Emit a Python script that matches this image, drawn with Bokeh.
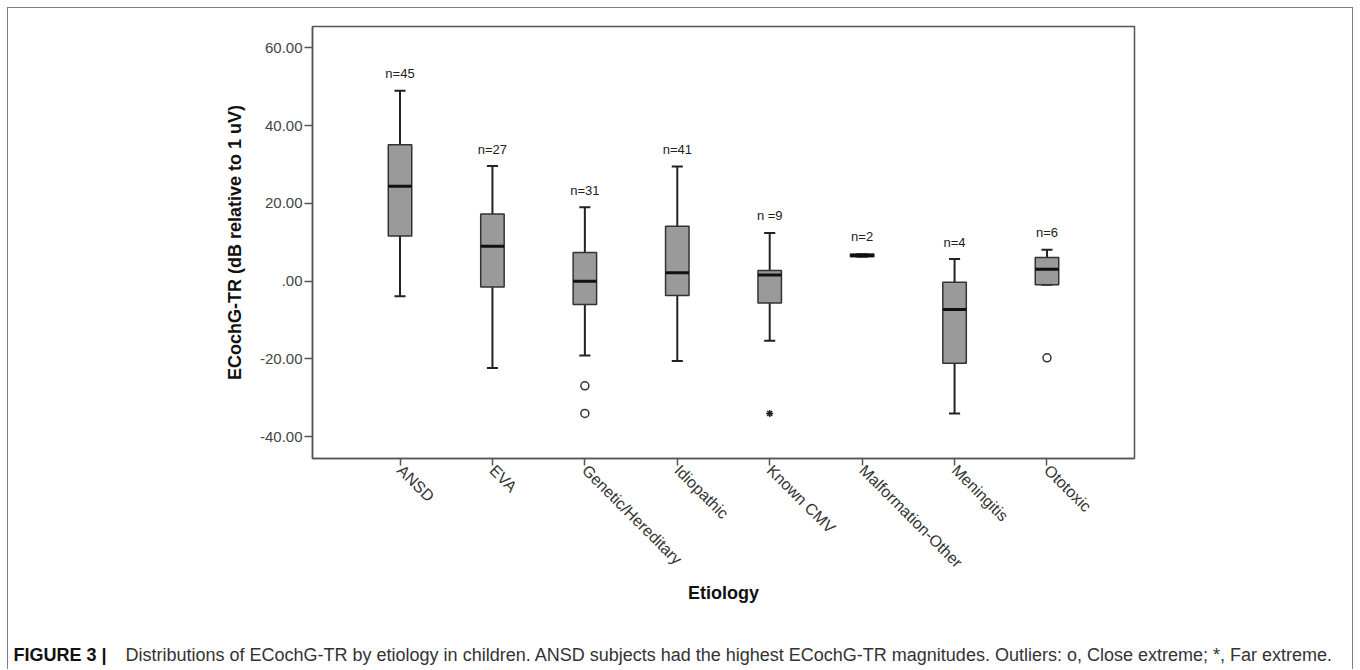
import math
from bokeh.plotting import figure
from bokeh.layouts import column
from bokeh.models import FactorRange, Range1d, FixedTicker, Label, ColumnDataSource
from bokeh.core.properties import value
from bokeh.embed import file_html
from bokeh.resources import INLINE

# ---- data ----
categories = ["ANSD", "EVA", "Genetic/Hereditary", "Idiopathic", "Known CMV",
              "Malformation-Other", "Meningitis", "Ototoxic"]
whisker_low = [-3.9, -22.3, -19.1, -20.5, -15.3, 6.3, -34.0, -0.9]
q1 = [11.6, -1.5, -6.0, -3.7, -5.6, 6.3, -21.1, -0.9]
median = [24.4, 9.0, 0.0, 2.2, 1.6, 6.6, -7.3, 3.1]
q3 = [35.1, 17.3, 7.4, 14.1, 2.75, 7.0, -0.3, 6.1]
whisker_high = [49.0, 29.6, 19.0, 29.5, 12.4, 7.0, 5.7, 8.1]
n_labels = ["n=45", "n=27", "n=31", "n=41", "n =9", "n=2", "n=4", "n=6"]

close_outlier_cat = ["Genetic/Hereditary", "Genetic/Hereditary", "Ototoxic"]
close_outlier_val = [-26.9, -34.0, -19.7]
far_outlier_cat = ["Known CMV"]
far_outlier_val = [-34.0]

y_ticks = [-40, -20, 0, 20, 40, 60]
y_tick_labels = ["-40.00", "-20.00", ".00", "20.00", "40.00", "60.00"]

caption_bold = "FIGURE 3 |"
caption_text = ("Distributions of ECochG-TR by etiology in children. ANSD subjects had the "
                "highest ECochG-TR magnitudes. Outliers: o, Close extreme; *, Far extreme.")

FONT = "Liberation Sans"
BORDER = "1px solid #808080"

src = ColumnDataSource(dict(cat=categories, lo=whisker_low, q1=q1, med=median,
                            q3=q3, hi=whisker_high, n=n_labels))

p = figure(x_range=FactorRange(factors=categories, range_padding=0.1117),
           y_range=Range1d(-45.6, 65.5),
           width=1346, height=612,
           output_backend="svg", toolbar_location=None,
           min_border_left=304, min_border_right=220,
           min_border_top=18, min_border_bottom=162)
p.margin = (7, 0, 0, 7)
p.frame_align = False
p.styles = {"border-top": BORDER, "border-left": BORDER, "border-right": BORDER}

p.xgrid.visible = False
p.ygrid.visible = False
p.outline_line_color = "#555555"
p.outline_line_width = 1.5
p.background_fill_color = "white"
p.border_fill_color = "white"

# whiskers
p.segment(x0="cat", y0="q3", x1="cat", y1="hi", source=src, line_color="#222222", line_width=2)
p.segment(x0="cat", y0="q1", x1="cat", y1="lo", source=src, line_color="#222222", line_width=2)
# caps
p.rect(x="cat", y="hi", width=0.12, height=2, height_units="screen", source=src,
       fill_color="#222222", line_color=None)
p.rect(x="cat", y="lo", width=0.12, height=2, height_units="screen", source=src,
       fill_color="#222222", line_color=None)
# boxes
p.vbar(x="cat", bottom="q1", top="q3", width=0.254, source=src,
       fill_color="#9a9a9a", line_color="#333333", line_width=1.5)
# medians
p.rect(x="cat", y="med", width=0.254, height=3, height_units="screen", source=src,
       fill_color="#111111", line_color=None)

# outliers
p.scatter(x=close_outlier_cat, y=close_outlier_val, marker="circle", size=8,
          fill_color="white", line_color="#333333", line_width=1.5)
p.scatter(x=far_outlier_cat, y=far_outlier_val, marker="asterisk", size=7,
          line_color="#222222", line_width=1.5)

# n labels
p.text(x="cat", y="hi", text="n", source=src, text_align="center", text_baseline="middle",
       y_offset=-17, text_font=value(FONT), text_font_size="13px", text_color="#222222")

# y axis
p.yaxis.ticker = FixedTicker(ticks=y_ticks)
p.yaxis.major_label_overrides = dict(zip(y_ticks, y_tick_labels))
p.yaxis.axis_label = "ECochG-TR (dB relative to 1 uV)"
p.yaxis.axis_label_text_font = FONT
p.yaxis.axis_label_text_font_style = "bold"
p.yaxis.axis_label_text_font_size = "18px"
p.yaxis.axis_label_text_color = "#111111"
p.yaxis.axis_label_standoff = 12
p.yaxis.major_label_text_font = FONT
p.yaxis.major_label_text_font_size = "15px"
p.yaxis.major_label_text_color = "#444444"
p.yaxis.major_tick_out = 8
p.yaxis.major_tick_in = 0
p.yaxis.minor_tick_line_color = None
p.yaxis.axis_line_color = "#555555"
p.yaxis.axis_line_width = 1.5
p.yaxis.major_tick_line_color = "#555555"
p.yaxis.major_tick_line_width = 1.5
p.yaxis.major_label_standoff = 2

# x axis
p.xaxis.axis_label = "Etiology"
p.xaxis.axis_label_text_font = FONT
p.xaxis.axis_label_text_font_style = "bold"
p.xaxis.axis_label_text_font_size = "18px"
p.xaxis.axis_label_text_color = "#111111"
p.xaxis.axis_label_standoff = 3
p.xaxis.major_label_orientation = -math.pi / 4
p.xaxis.major_label_text_font = FONT
p.xaxis.major_label_text_font_size = "16px"
p.xaxis.major_label_text_color = "#333333"
p.xaxis.major_tick_out = 7
p.xaxis.major_tick_in = 0
p.xaxis.axis_line_color = "#555555"
p.xaxis.axis_line_width = 1.5
p.xaxis.major_tick_line_color = "#555555"
p.xaxis.major_tick_line_width = 1.5
p.xaxis.major_label_standoff = 2

# caption strip (a second, axis-less figure below the chart)
cap = figure(width=1346, height=50, output_backend="svg", toolbar_location=None,
             x_axis_type=None, y_axis_type=None,
             x_range=Range1d(0, 1), y_range=Range1d(0, 1),
             min_border_left=0, min_border_right=0, min_border_top=0, min_border_bottom=0)
cap.margin = (0, 0, 0, 7)
cap.frame_align = False
cap.styles = {"border-left": BORDER, "border-right": BORDER}
cap.outline_line_color = None
cap.xgrid.visible = False
cap.ygrid.visible = False
cap.background_fill_color = "white"
cap.border_fill_color = "white"
cap.add_layout(Label(x=5, y=15, x_units="screen", y_units="screen", text=caption_bold,
                     text_font=FONT, text_font_style="bold", text_font_size="18px",
                     text_baseline="middle", text_color="#111111"))
cap.add_layout(Label(x=117, y=15, x_units="screen", y_units="screen", text=caption_text,
                     text_font=FONT, text_font_size="18px",
                     text_baseline="middle", text_color="#333333"))

layout = column(p, cap, spacing=0)
open("out.html", "w").write(file_html(layout, INLINE))
